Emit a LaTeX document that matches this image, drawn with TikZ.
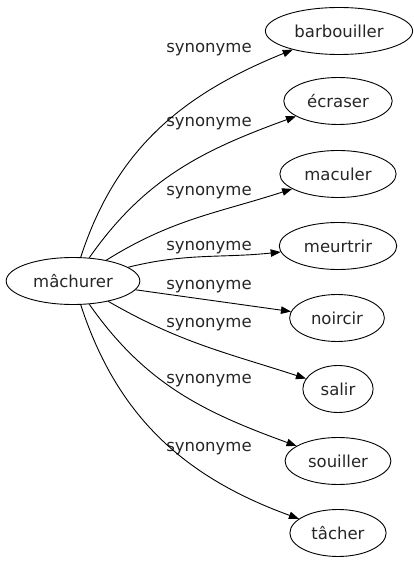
\documentclass[tikz,border=0pt]{standalone}
\usepackage{fontspec}
\setmainfont{DejaVu Sans}
\usetikzlibrary{shapes.geometric, arrows.meta, positioning}
\tikzstyle{word} = [ellipse, draw=black, line width=0.9pt, minimum height=47pt, inner xsep=7.5pt, text=black!85, font=\fontsize{16.5}{18}\selectfont]
\tikzstyle{rel} = [text=black!85, font=\fontsize{16.5}{18}\selectfont]
\tikzstyle{arrow} = [-{Triangle[length=10pt,width=7.5pt]}, line width=0.9pt]

\begin{document}
\begin{tikzpicture}[x=1pt, y=1pt]
\useasboundingbox (0,0) rectangle (414,563);
% Main word
\node[word] (mach) at (73, 282) {mâchurer};

% Synonyms
\node[word] (barb) at (339, 532) {barbouiller};
\node[word] (ecra) at (338, 462) {écraser};
\node[word] (macu) at (338, 389) {maculer};
\node[word] (meur) at (338, 317) {meurtrir};
\node[word] (noir) at (337, 245) {noircir};
\node[word] (sali) at (338, 174) {salir};
\node[word] (soui) at (338, 102) {souiller};
\node[word] (tach) at (338, 30) {tâcher};

% Edge labels
\node[rel] (syn1) at (209, 513) {synonyme};
\node[rel] (syn2) at (209, 439) {synonyme};
\node[rel] (syn3) at (209, 370) {synonyme};
\node[rel] (syn4) at (209, 315) {synonyme};
\node[rel] (syn5) at (209, 276) {synonyme};
\node[rel] (syn6) at (209, 238) {synonyme};
\node[rel] (syn7) at (209, 182) {synonyme};
\node[rel] (syn8) at (209, 114) {synonyme};

% Edges
\draw[arrow] (mach) to[out=72, in=202] (barb);
\draw[arrow] (mach) to[out=55, in=200] (ecra);
\draw[arrow] (mach) to[out=32, in=198] (macu);
\draw[arrow] (mach) to[out=14, in=186] (meur);
\draw[arrow] (mach) to[out=-8, in=172] (noir);
\draw[arrow] (mach) to[out=-30, in=162] (sali);
\draw[arrow] (mach) to[out=-55, in=160] (soui);
\draw[arrow] (mach) to[out=-72, in=160] (tach);
\end{tikzpicture}
\end{document}
